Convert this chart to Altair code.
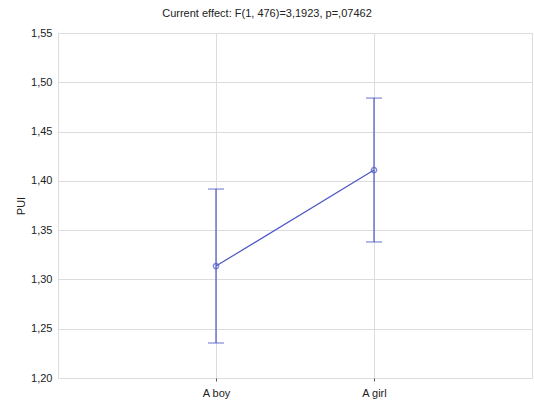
import altair as alt
import pandas as pd

groups = ["A boy", "A girl"]
means = [1.3136, 1.411]
lower = [1.2355, 1.338]
upper = [1.3917, 1.484]

df = pd.DataFrame({"group": groups, "mean": means, "lo": lower, "hi": upper})

blue = "#4b55c4"
comma = "replace(format(datum.value, '.2f'), '.', ',')"

x = alt.X("group:N", sort=groups,
          scale=alt.Scale(type="point", padding=1),
          axis=alt.Axis(title=None, labelAngle=0, grid=True, gridColor="#dcdcdc",
                        domain=False, ticks=True, tickColor="#555", tickSize=3,
                        labelFont="Liberation Sans", labelFontSize=11, labelColor="#222",
                        labelPadding=6))
yscale = alt.Scale(domain=[1.20, 1.55], nice=False, zero=False)
yaxis = alt.Axis(title="PUI", values=[1.20, 1.25, 1.30, 1.35, 1.40, 1.45, 1.50, 1.55],
                 labelExpr=comma, grid=True, gridColor="#dcdcdc", domain=False,
                 ticks=False, labelFont="Liberation Sans", labelFontSize=11,
                 labelColor="#222", labelPadding=6, titleFont="Liberation Sans",
                 titleFontSize=11, titleFontWeight="normal", titleColor="#222",
                 titlePadding=4)

base = alt.Chart(df)

bars = base.mark_rule(color=blue, strokeWidth=1.2).encode(
    x=x, y=alt.Y("lo:Q", scale=yscale, axis=yaxis), y2="hi:Q")
cap_lo = base.mark_tick(color=blue, size=16, thickness=1.2).encode(x=x, y=alt.Y("lo:Q", scale=yscale))
cap_hi = base.mark_tick(color=blue, size=16, thickness=1.2).encode(x=x, y=alt.Y("hi:Q", scale=yscale))
line = base.mark_line(color=blue, strokeWidth=1.2).encode(x=x, y=alt.Y("mean:Q", scale=yscale))
pts = base.mark_point(color=blue, size=28, strokeWidth=1.4, filled=False, shape="circle").encode(
    x=x, y=alt.Y("mean:Q", scale=yscale))

chart = alt.layer(bars, cap_lo, cap_hi, line, pts).properties(
    width=474, height=345,
    title=alt.TitleParams("Current effect: F(1, 476)=3,1923, p=,07462",
                          font="Liberation Sans", fontSize=11, fontWeight="normal",
                          color="#222", anchor="middle", offset=8, dx=-28),
    autosize=alt.AutoSizeParams(type="none"),
    padding={"left": 58, "top": 33, "right": 2, "bottom": 23},
).configure_view(stroke="#555", strokeWidth=1.6).configure(background="white")

chart.save("out.html", embed_options={"renderer": "svg", "actions": False})
